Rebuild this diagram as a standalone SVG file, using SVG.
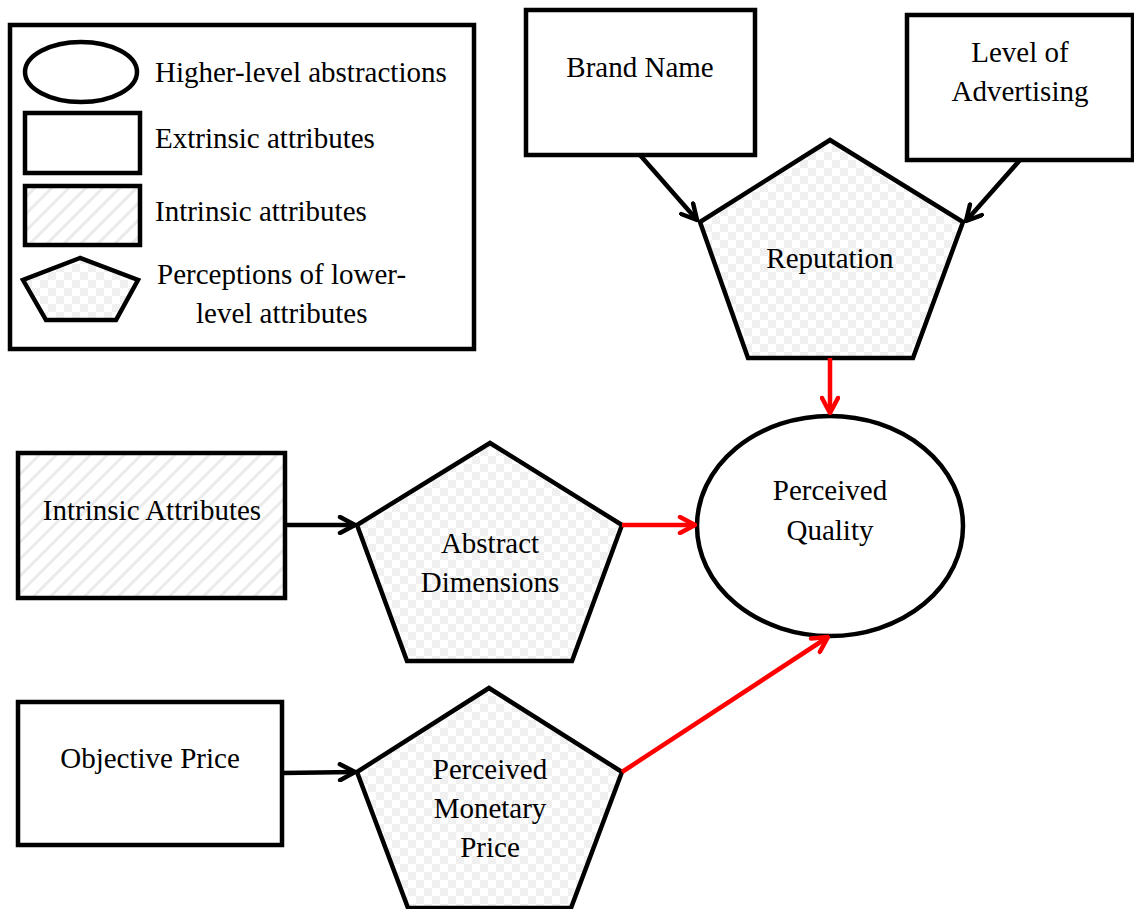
<svg xmlns="http://www.w3.org/2000/svg" width="1134" height="909" viewBox="0 0 1134 909">
<defs>
<pattern id="checker" width="16" height="16" patternUnits="userSpaceOnUse">
<rect width="16" height="16" fill="#ffffff"/>
<rect width="8" height="8" fill="#f0f0f0"/>
<rect x="8" y="8" width="8" height="8" fill="#f0f0f0"/>
</pattern>
<pattern id="hatch" width="12" height="12" patternUnits="userSpaceOnUse" patternTransform="rotate(45)">
<rect width="12" height="12" fill="#ffffff"/>
<rect x="0" y="0" width="3" height="12" fill="#ebebeb"/>
</pattern>
<marker id="ab" viewBox="0 0 20 20" refX="18" refY="10" markerWidth="20" markerHeight="20" markerUnits="userSpaceOnUse" orient="auto">
<path d="M3,2 L18,10 L3,18" fill="none" stroke="#000" stroke-width="4.5" stroke-linecap="round" stroke-linejoin="round"/>
</marker>
<marker id="ar" viewBox="0 0 20 20" refX="18" refY="10" markerWidth="20" markerHeight="20" markerUnits="userSpaceOnUse" orient="auto">
<path d="M3,2 L18,10 L3,18" fill="none" stroke="#ff0000" stroke-width="4.5" stroke-linecap="round" stroke-linejoin="round"/>
</marker>
</defs>
<style>
.s{stroke:#000;stroke-width:4.5;stroke-linejoin:miter}
.w{fill:#fff}
.c{fill:url(#checker)}
.h{fill:url(#hatch)}
text{font-family:"Liberation Serif","Times New Roman",serif;font-size:29px;fill:#000}
.m{text-anchor:middle}
.lb{stroke:#000;stroke-width:4.5;fill:none}
.lr{stroke:#ff0000;stroke-width:4.5;fill:none}
</style>
<rect width="1134" height="909" fill="#fff"/>
<g id="legend">
<rect class="s w" x="10" y="25" width="464" height="324"/>
<ellipse class="s w" cx="81" cy="72" rx="56" ry="30"/>
<rect class="s w" x="25" y="113" width="115" height="60"/>
<rect class="s h" x="25" y="186" width="115" height="59"/>
<polygon class="s c" points="80,258 23,280 46,320 116,320 138,280"/>
<text x="155" y="82">Higher-level abstractions</text>
<text x="155" y="148">Extrinsic attributes</text>
<text x="155" y="221">Intrinsic attributes</text>
<text x="157" y="284">Perceptions of lower-</text>
<text x="196" y="323">level attributes</text>
</g>
<g id="brand-name">
<rect class="s w" x="526" y="10" width="229" height="145"/>
<text class="m" x="640" y="77">Brand Name</text>
</g>
<g id="level-of-advertising">
<rect class="s w" x="907" y="15" width="226" height="145"/>
<text class="m" x="1020" y="62">Level of</text>
<text class="m" x="1020" y="101">Advertising</text>
</g>
<g id="reputation">
<polygon class="s c" points="830,140 700,222 748,358 913,358 963,222"/>
<text class="m" x="830" y="268">Reputation</text>
</g>
<g id="perceived-quality">
<ellipse class="s w" cx="830" cy="526" rx="133" ry="110"/>
<text class="m" x="830" y="500">Perceived</text>
<text class="m" x="830" y="540">Quality</text>
</g>
<g id="intrinsic-attributes">
<rect class="s h" x="18" y="453" width="267" height="145"/>
<text class="m" x="152" y="520">Intrinsic Attributes</text>
</g>
<g id="abstract-dimensions">
<polygon class="s c" points="490,443 357,525 407,661 572,661 622,525"/>
<text class="m" x="490" y="553">Abstract</text>
<text class="m" x="490" y="592">Dimensions</text>
</g>
<g id="objective-price">
<rect class="s w" x="18" y="702" width="264" height="143"/>
<text class="m" x="150" y="768">Objective Price</text>
</g>
<g id="perceived-monetary-price">
<polygon class="s c" points="489,688 357,772 408,908 571,908 622,772"/>
<text class="m" x="490" y="779">Perceived</text>
<text class="m" x="490" y="818">Monetary</text>
<text class="m" x="490" y="857">Price</text>
</g>
<g id="connectors">
<line class="lb" x1="640" y1="155" x2="697" y2="220" marker-end="url(#ab)"/>
<line class="lb" x1="1020" y1="160" x2="966" y2="221" marker-end="url(#ab)"/>
<line class="lr" x1="830" y1="358" x2="830" y2="413" marker-end="url(#ar)"/>
<line class="lb" x1="285" y1="525" x2="355" y2="525" marker-end="url(#ab)"/>
<line class="lr" x1="622" y1="525" x2="695" y2="525" marker-end="url(#ar)"/>
<line class="lb" x1="282" y1="773" x2="355" y2="772" marker-end="url(#ab)"/>
<line class="lr" x1="622" y1="772" x2="828" y2="637" marker-end="url(#ar)"/>
</g>
</svg>
